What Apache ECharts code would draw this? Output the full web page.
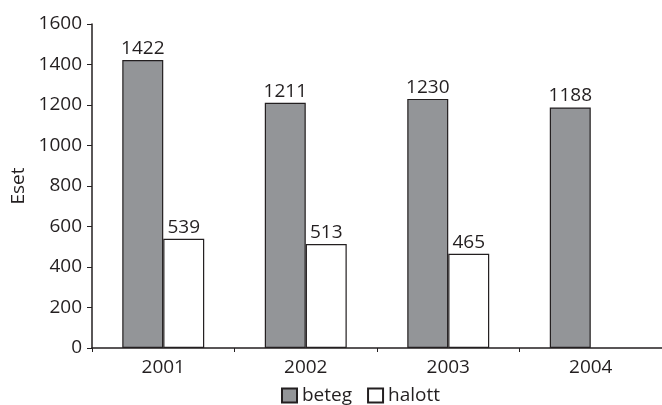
<!DOCTYPE html>
<html><head><meta charset="utf-8">
<script src="https://cdn.jsdelivr.net/npm/echarts@6/dist/echarts.min.js"></script>
<style>html,body{margin:0;padding:0;background:#fff}#c{width:662px;height:405px}</style>
</head><body><div id="c"></div>
<script>
const categories = ['2001','2002','2003','2004'];
const beteg = [1422, 1211, 1230, 1188];
const halott = [539, 513, 465, null];
const yTicks = [0,200,400,600,800,1000,1200,1400,1600];

const font = '"Open Sans", "DejaVu Sans", sans-serif';
const ink = '#231f20';
const chart = echarts.init(document.getElementById('c'));
const labelStyle = {show:true, position:'top', color:ink, fontSize:19, fontFamily:font, distance:2};
chart.setOption({
  animation:false,
  textStyle:{fontFamily:font},
  grid:{left:92, right:0, top:24, bottom:57, outerBoundsMode:'none', containLabel:false},
  legend:{
    top:386, left:281, padding:0, itemWidth:15, itemHeight:14, itemGap:15,
    textStyle:{fontSize:19, lineHeight:19, color:ink, fontFamily:font, padding:[0,0,0,0]},
    data:[{name:'beteg', icon:'rect'},{name:'halott', icon:'rect'}]
  },
  xAxis:{
    type:'category', data:categories,
    axisLine:{lineStyle:{color:ink, width:1.5}},
    axisTick:{show:true, length:4, lineStyle:{color:ink}},
    axisLabel:{color:ink, fontSize:19, margin:10, fontFamily:font}
  },
  yAxis:{
    type:'value', min:yTicks[0], max:yTicks[yTicks.length-1], interval:200,
    name:'Eset', nameLocation:'middle', nameGap:63, nameRotate:90,
    nameTextStyle:{color:ink, fontSize:19, fontFamily:font},
    axisLine:{show:true, lineStyle:{color:ink, width:1.5}},
    axisTick:{show:true, length:5, lineStyle:{color:ink}},
    axisLabel:{color:ink, fontSize:19, margin:10, fontFamily:font, formatter:v => String(v)},
    splitLine:{show:false}
  },
  series:[
    {name:'beteg', type:'bar', data:beteg, barGap:'0%', barCategoryGap:'42.5%',
     itemStyle:{color:'#939598', borderColor:ink, borderWidth:1.2},
     label:labelStyle},
    {name:'halott', type:'bar', data:halott,
     itemStyle:{color:'#ffffff', borderColor:ink, borderWidth:1.2},
     label:labelStyle}
  ]
});
</script></body></html>
